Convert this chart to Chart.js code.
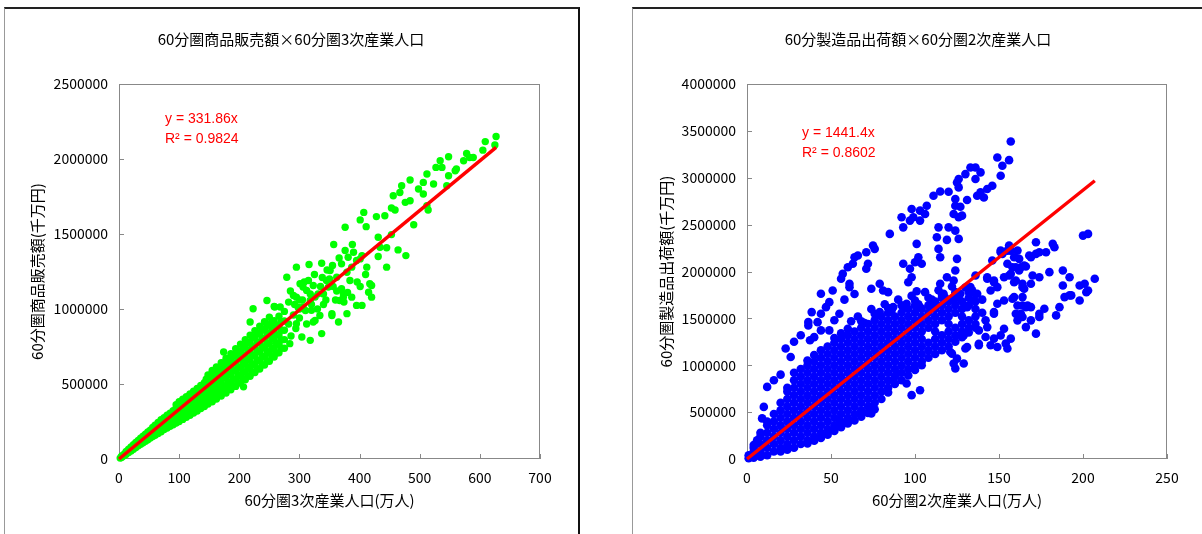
<!DOCTYPE html>
<html>
<head>
<meta charset="utf-8">
<script src="https://cdn.jsdelivr.net/npm/chart.js@4.4.1/dist/chart.umd.min.js"></script>
<style>
  body { margin: 0; background: #fff; width: 1202px; height: 534px; overflow: hidden; position: relative; }
  .box { position: absolute; top: 7px; height: 600px; border-top: 2px solid #222; border-left: 1px solid #999; }
  #box1 { left: 4px; width: 573px; border-right: 2px solid #111; }
  #box2 { left: 632px; width: 620px; }
  canvas { position: absolute; top: 0; }
</style>
</head>
<body>
<div class="box" id="box1"></div>
<div class="box" id="box2"></div>
<canvas id="c1" width="600" height="534" style="left:0"></canvas>
<canvas id="c2" width="600" height="534" style="left:602px"></canvas>
<script>
// 左: 60分圏3次産業人口(万人) x 商品販売額(千万円)
const greenPoints = [
  [2,6000],[4,10000],[4,17000],[6,16000],[6,24000],[9,24000],[9,33000],
  [12,32000],[12,42000],[12,50000],[16,44000],[16,56000],[16,66000],
  [20,54000],[20,67000],[20,80000],[24,65000],[24,80000],[24,95000],
  [28,76000],[28,93000],[28,110000],[32,88000],[32,106000],[32,124000],
  [36,98000],[36,118000],[36,138000],[40,108000],[40,132000],[40,152000],
  [44,118000],[44,145000],[44,166000],[48,128000],[48,155000],[48,180000],
  [52,140000],[52,165000],[52,192000],[56,150000],[56,174000],[56,196000],[56,210000],
  [60,158000],[60,184000],[60,206000],[60,225000],[65,170000],[65,196000],[65,222000],[65,244000],
  [70,182000],[70,210000],[70,236000],[70,262000],[75,196000],[75,224000],[75,250000],[75,276000],
  [80,206000],[80,236000],[80,264000],[80,292000],[85,218000],[85,250000],[85,280000],[85,306000],
  [90,228000],[90,260000],[90,294000],[90,322000],
  [95,240000],[95,272000],[95,306000],[95,338000],[95,362000],
  [100,250000],[100,284000],[100,318000],[100,350000],[100,382000],
  [103,268000],[103,306000],[103,340000],[103,370000],
  [106,264000],[106,300000],[106,334000],[106,368000],[106,398000],
  [109,286000],[109,318000],[109,358000],[109,392000],
  [112,278000],[112,314000],[112,352000],[112,386000],[112,416000],
  [115,296000],[115,336000],[115,370000],[115,410000],
  [118,292000],[118,330000],[118,366000],[118,404000],[118,434000],
  [121,314000],[121,348000],[121,390000],[121,426000],
  [124,306000],[124,344000],[124,384000],[124,420000],[124,452000],
  [127,328000],[127,364000],[127,408000],[127,446000],
  [130,320000],[130,358000],[130,398000],[130,438000],[130,470000],
  [133,340000],[133,384000],[133,422000],[133,466000],
  [136,336000],[136,374000],[136,416000],[136,456000],[136,490000],
  [139,358000],[139,396000],[139,442000],[139,480000],
  [142,350000],[142,390000],[142,432000],[142,474000],[142,508000],
  [145,370000],[145,416000],[145,454000],[145,500000],[145,532000],
  [148,366000],[148,404000],[148,448000],[148,490000],[148,528000],[148,560000],
  [151,388000],[151,426000],[151,476000],[151,514000],[151,558000],
  [155,382000],[155,422000],[155,468000],[155,512000],[155,554000],[155,590000],
  [158,404000],[158,446000],[158,498000],[158,538000],[158,584000],
  [162,400000],[162,442000],[162,490000],[162,536000],[162,578000],[162,614000],
  [166,424000],[166,466000],[166,520000],[166,564000],[166,610000],
  [170,420000],[170,464000],[170,514000],[170,560000],[170,606000],[170,642000],
  [174,444000],[174,488000],[174,544000],[174,590000],[174,640000],
  [178,440000],[178,486000],[178,538000],[178,586000],[178,632000],[178,672000],
  [182,464000],[182,514000],[182,564000],[182,620000],[182,664000],
  [186,462000],[186,510000],[186,562000],[186,612000],[186,660000],[186,702000],
  [190,486000],[190,534000],[190,592000],[190,642000],[190,696000],
  [194,484000],[194,532000],[194,586000],[194,640000],[194,690000],[194,736000],
  [198,508000],[198,562000],[198,612000],[198,672000],[198,720000],
  [202,506000],[202,556000],[202,612000],[202,666000],[202,718000],[202,766000],
  [206,532000],[206,582000],[206,642000],[206,694000],[206,752000],
  [210,528000],[210,580000],[210,636000],[210,692000],[210,746000],[210,796000],
  [214,554000],[214,610000],[214,664000],[214,726000],[214,778000],
  [218,552000],[218,604000],[218,662000],[218,720000],[218,776000],[218,826000],
  [222,578000],[222,632000],[222,694000],[222,750000],[222,812000],
  [226,576000],[226,630000],[226,690000],[226,748000],[226,806000],[226,856000],
  [230,602000],[230,658000],[230,722000],[230,778000],[230,842000],
  [234,600000],[234,656000],[234,716000],[234,776000],[234,834000],[234,886000],
  [238,628000],[238,684000],[238,748000],[238,806000],[238,868000],
  [242,626000],[242,682000],[242,742000],[242,802000],[242,862000],[242,916000],
  [246,654000],[246,714000],[246,772000],[246,838000],[246,894000],
  [250,652000],[250,708000],[250,770000],[250,832000],[250,892000],[250,946000],
  [254,682000],[254,738000],[254,804000],[254,862000],[254,918000],
  [258,680000],[258,736000],[258,798000],[258,860000],[258,922000],
  [262,706000],[262,770000],[262,828000],[262,894000],
  [266,708000],[266,764000],[266,826000],[266,888000],[266,952000],
  [270,738000],[270,794000],[270,858000],[270,916000],
  [275,738000],[275,796000],[275,858000],[275,920000],[275,984000],
  [282,900000],[286,820000],[290,960000],[294,870000],[298,1010000],[300,940000],
  [305,1060000],[310,990000],[312,900000],[318,1100000],[320,1030000],[326,1080000],
  [330,1000000],[335,1150000],[340,1100000],[344,1060000],[350,1200000],[356,1150000],[362,1120000],
  [285,1120000],[292,1030000],[300,1060000],[308,1180000],[315,1190000],[325,1230000],
  [338,1210000],[346,1260000],[355,1290000],[366,1340000],[376,1390000],[388,1430000],
  [300,1000000],[340,1030000],[360,1060000],[380,1110000],[396,1180000],[410,1230000],
  // 散らばった点
  [223,1002000],[246,1057000],[258,1017000],[304,813000],[318,791000],[337,836000],
  [323,913000],[334,957000],[354,957000],[365,913000],[373,1079000],[395,1024000],
  [295,902000],[284,769000],[207,481000],[174,713000],[218,913000],
  [627,2150000],[625,2094000],[609,2116000],[605,2059000],[578,2037000],[583,2010000],
  [573,1988000],[548,2015000],[534,1988000],[527,1944000],[537,1944000],[559,1922000],
  [548,1888000],[512,1900000],[523,1833000],[506,1844000],[484,1860000],[470,1822000],
  [467,1777000],[456,1755000],[498,1800000],[506,1767000],[484,1722000],[476,1711000],
  [514,1660000],[453,1673000],[459,1660000],[490,1562000],[442,1622000],[428,1616000],
  [407,1644000],[401,1594000],[411,1549000],[376,1545000],[431,1478000],[453,1496000],
  [445,1408000],[464,1394000],[477,1356000],[431,1350000],[445,1279000],[357,1430000],
  [390,1378000],[381,1345000],[370,1301000],[401,1334000],[412,1279000],[337,1305000],
  [316,1297000],[295,1279000],[279,1212000],[351,1257000],[362,1212000],[401,1150000],
  [420,1157000],[415,1112000],[420,1079000],[387,1079000],[373,1101000],[374,1046000],
  [404,1024000],[354,969000],[320,991000],[290,1090000],[306,1146000],[259,1013000],
  [301,1168000],[312,1124000],[323,1157000],[331,1101000],[345,1190000],[348,1146000],
  [379,1245000],[387,1279000],[395,1323000],[404,1356000],[370,1135000],[384,1190000],
  [268,1013000],[282,1046000],[295,1079000],[306,1013000],[318,1057000],[326,924000],
  [367,1057000],[379,969000],[417,1168000],[434,1412000],[512,1689000],[545,1822000],
  [561,1933000],[589,2010000]
];
const greenTrend = [[0,0],[627,2077000]];
const greenEquation = ['y = 331.86x', 'R² = 0.9824'];
const leftXTicks = [0, 700, 100];
const leftYTicks = [0, 2500000, 500000];

// 右: 60分圏2次産業人口(万人) x 製造品出荷額(千万円)
const bluePoints = [
  // 密集部
  [1,8000],[1,40000],[2,30000],[4,15000],[4,40000],[4,80000],[4,120000],[4,150000],[6,40000],[6,200000],
  [8,25000],[8,80000],[8,160000],[8,240000],[8,280000],
  [12,40000],[12,120000],[12,200000],[12,280000],[12,360000],[12,400000],
  [16,80000],[16,160000],[16,240000],[16,320000],[16,400000],[16,480000],
  [20,80000],[20,120000],[20,200000],[20,280000],[20,360000],[20,440000],[20,520000],[20,600000],
  [24,100000],[24,160000],[24,240000],[24,320000],[24,400000],[24,480000],[24,560000],[24,640000],[24,720000],[24,760000],
  [28,120000],[28,200000],[28,280000],[28,360000],[28,440000],[28,520000],[28,600000],[28,680000],[28,760000],[28,840000],[28,920000],
  [32,160000],[32,240000],[32,320000],[32,400000],[32,480000],[32,560000],[32,640000],[32,720000],[32,800000],[32,880000],[32,960000],
  [36,165000],[36,200000],[36,280000],[36,360000],[36,440000],[36,520000],[36,600000],[36,680000],[36,760000],[36,840000],[36,920000],[36,1000000],[36,1050000],
  [40,195000],[40,240000],[40,320000],[40,400000],[40,480000],[40,560000],[40,640000],[40,720000],[40,800000],[40,880000],[40,960000],[40,1040000],[40,1110000],
  [44,225000],[44,280000],[44,360000],[44,440000],[44,520000],[44,600000],[44,680000],[44,760000],[44,840000],[44,920000],[44,1000000],[44,1080000],[44,1160000],
  [48,260000],[48,320000],[48,400000],[48,480000],[48,560000],[48,640000],[48,720000],[48,800000],[48,880000],[48,960000],[48,1040000],[48,1120000],[48,1200000],
  [52,300000],[52,360000],[52,440000],[52,520000],[52,600000],[52,680000],[52,760000],[52,840000],[52,920000],[52,1000000],[52,1080000],[52,1160000],[52,1240000],[52,1290000],
  [56,340000],[56,400000],[56,480000],[56,560000],[56,640000],[56,720000],[56,800000],[56,880000],[56,960000],[56,1040000],[56,1120000],[56,1200000],[56,1280000],[56,1340000],
  [60,380000],[60,440000],[60,520000],[60,600000],[60,680000],[60,760000],[60,840000],[60,920000],[60,1000000],[60,1080000],[60,1160000],[60,1240000],[60,1320000],[60,1390000],
  [64,410000],[64,480000],[64,560000],[64,640000],[64,720000],[64,800000],[64,880000],[64,960000],[64,1040000],[64,1120000],[64,1200000],[64,1280000],[64,1360000],
  [68,450000],[68,520000],[68,600000],[68,680000],[68,760000],[68,840000],[68,920000],[68,1000000],[68,1080000],[68,1160000],[68,1240000],[68,1320000],[68,1400000],[68,1470000],
  [72,490000],[72,560000],[72,640000],[72,720000],[72,800000],[72,880000],[72,960000],[72,1040000],[72,1120000],[72,1200000],[72,1280000],[72,1360000],[72,1440000],
  [76,530000],[76,600000],[76,680000],[76,760000],[76,840000],[76,920000],[76,1000000],[76,1080000],[76,1160000],[76,1240000],[76,1320000],[76,1400000],[76,1480000],[76,1550000],
  [80,640000],[80,720000],[80,800000],[80,880000],[80,960000],[80,1040000],[80,1120000],[80,1200000],[80,1280000],[80,1360000],[80,1440000],[80,1520000],
  [84,710000],[84,760000],[84,840000],[84,920000],[84,1000000],[84,1080000],[84,1160000],[84,1240000],[84,1320000],[84,1400000],[84,1480000],[84,1560000],[84,1610000],
  [88,800000],[88,880000],[88,960000],[88,1040000],[88,1120000],[88,1200000],[88,1280000],[88,1360000],[88,1440000],[88,1520000],
  [92,840000],[92,920000],[92,1000000],[92,1080000],[92,1160000],[92,1240000],[92,1320000],[92,1400000],[92,1480000],[92,1560000],[92,1640000],
  [96,890000],[96,960000],[96,1040000],[96,1120000],[96,1200000],[96,1280000],[96,1360000],[96,1440000],[96,1520000],[96,1600000],
  [100,950000],[100,1000000],[100,1080000],[100,1160000],[100,1240000],[100,1320000],[100,1400000],[100,1480000],[100,1560000],[100,1640000],[100,1690000],
  [104,1000000],[104,1040000],[104,1120000],[104,1200000],[104,1280000],[104,1360000],[104,1440000],[104,1520000],[104,1600000],
  [108,1080000],[108,1160000],[108,1240000],[108,1400000],[108,1480000],[108,1560000],[108,1640000],[108,1720000],
  [112,1120000],[112,1200000],[112,1280000],[112,1360000],[112,1440000],[112,1520000],[112,1600000],[112,1680000],
  [116,1160000],[116,1240000],[116,1320000],[116,1480000],[116,1560000],[116,1640000],[116,1720000],[116,1760000],
  [120,1200000],[120,1280000],[120,1360000],[120,1440000],[120,1520000],[120,1600000],[120,1680000],
  [124,1250000],[124,1320000],[124,1400000],[124,1560000],[124,1640000],[124,1720000],[124,1780000],
  [128,1300000],[128,1360000],[128,1440000],[128,1520000],[128,1600000],[128,1680000],
  [132,1350000],[132,1400000],[132,1480000],[132,1640000],[132,1720000],[132,1780000],
  [136,1400000],[136,1440000],[136,1520000],[136,1600000],[136,1680000],[136,1760000],
  // 密集部の上端のばらつき
  [62,1470000],[66,1520000],[70,1450000],[74,1600000],[78,1540000],[82,1650000],[86,1580000],
  [90,1700000],[94,1620000],[98,1740000],[102,1650000],[106,1780000],[110,1700000],[114,1800000],
  [118,1720000],[122,1840000],[126,1720000],[130,1830000],[134,1800000],[140,1700000],[140,1560000],[142,1480000],
  // 上側の枝
  [157,3386000],[149,3216000],[156,3188000],[152,3128000],[151,3021000],[136,3110000],[139,3057000],
  [133,3110000],[130,3039000],[126,2986000],[125,2950000],[136,2986000],[146,2915000],[143,2880000],
  [139,2844000],[141,2790000],[137,2808000],[131,2762000],[126,2897000],[120,2851000],[115,2854000],
  [111,2808000],[124,2773000],[124,2702000],[127,2691000],[123,2614000],[126,2578000],[128,2596000],
  [120,2471000],[124,2436000],[126,2348000],[114,2471000],[113,2365000],[119,2337000],[114,2241000],
  [115,2152000],[125,2135000],[124,2011000],[101,2295000],[102,2152000],[100,2099000],[104,2082000],
  [97,2029000],[93,2082000],[98,1939000],[96,1886000],[107,2702000],[106,2614000],[103,2649000],
  [98,2667000],[99,2578000],[103,2543000],[92,2578000],[93,2471000],[97,2543000],[85,2401000],
  [75,2277000],[76,2241000],[71,2205000],[66,2170000],[64,2152000],[72,2082000],[71,2029000],
  [63,2082000],[60,2046000],[57,1975000],[61,1869000],[56,1922000],[79,1869000],[81,1798000],
  [84,1780000],[74,1816000],[101,1790000],
  // 右側のかたまり
  [115,1869000],[119,1939000],[123,1904000],[127,1763000],[133,1833000],[137,1763000],[135,1691000],
  [131,1620000],[123,1691000],[117,1763000],[109,1620000],[103,1620000],[95,1656000],[87,1620000],
  [79,1567000],[143,1939000],[147,1904000],[145,1798000],[149,1833000],[153,1939000],[155,2082000],
  [159,2152000],[158,2046000],[152,2188000],[151,2223000],[155,2223000],[161,2223000],[163,2046000],
  [165,2064000],[157,1975000],[160,1904000],[164,1833000],[164,1727000],[159,1727000],[153,1691000],
  [149,1656000],[164,1638000],[166,1620000],[169,1620000],[172,2312000],[174,2205000],[178,2205000],
  [182,2295000],[183,2259000],[169,2152000],[166,2053000],[170,1957000],[174,1939000],[169,1869000],
  [180,1993000],[188,1851000],[192,1939000],[198,1851000],[201,1869000],[203,1798000],[207,1922000],
  [200,2383000],[203,2401000],[192,1745000],[189,1727000],[198,1691000],[186,1620000],[184,1532000],
  [174,1550000],[163,1550000],[147,1550000],[188,2011000],[202,1780000],[193,1745000],[177,1603000],
  [174,1514000],[169,1479000],[172,1337000],[166,1407000],[164,1514000],[161,1479000],[167,1638000],
  [161,1638000],[160,1550000],[153,1390000],[157,1284000],[154,1231000],[151,1319000],[147,1284000],
  [145,1213000],[149,1195000],[155,1178000],[142,1301000],[143,1407000],[138,1372000],[138,1213000],
  [147,1567000],[130,1178000],[129,1018000],[124,965000],[122,1124000],[129,1319000],[158,1709000],
  [164,1869000],[165,1816000],[159,1886000],[156,1957000],[172,2188000],[168,2170000],[162,2011000],
  [160,2046000],[162,2135000],[157,2223000],[156,2277000],[151,2205000],[146,2117000],[136,1957000],
  [143,1922000],[147,1886000],
  // 下側・左上の点
  [103,734000],[98,681000],[89,912000],[95,805000],[87,840000],[73,556000],[74,486000],[68,503000],
  [55,415000],[131,1195000],[138,1230000],[125,1071000],[121,1141000],[123,1018000],
  [23,1178000],[26,1088000],[10,556000],[9,433000],[16,840000],[12,769000],[36.5,1461000],
  [36.5,1425000],[37.5,1266000],[44,1372000],[49,1372000],[38.5,1567000],[44,1550000],
  [47,1620000],[44,1763000],[49,1673000],[51,1798000],[55,1550000],[61,1833000],
  [20,900000],[28,1250000],[32,1320000],[40,1300000],[42,1460000],[52,1480000],[58,1700000],[64,1760000]
];
const blueTrend = [[0,0],[207,2968000]];
const blueEquation = ['y = 1441.4x', 'R² = 0.8602'];
const rightXTicks = [0, 250, 50];
const rightYTicks = [0, 4000000, 500000];

Chart.defaults.font.family = '"Noto Sans CJK JP", "Noto Sans", sans-serif';
Chart.defaults.color = '#000';

// プロットエリアの枠と内向きの目盛り
const plotFrame = {
  id: 'plotFrame',
  beforeDatasetsDraw(chart) {
    const {ctx, chartArea: a, scales} = chart;
    ctx.save();
    ctx.strokeStyle = '#888';
    ctx.lineWidth = 1;
    ctx.strokeRect(a.left + 0.5, a.top + 0.5, a.right - a.left - 1, a.bottom - a.top - 1);
    ctx.beginPath();
    scales.x.ticks.forEach((t, i) => {
      const px = Math.round(scales.x.getPixelForTick(i)) + 0.5;
      ctx.moveTo(px, a.bottom);
      ctx.lineTo(px, a.bottom - 5);
    });
    scales.y.ticks.forEach((t, i) => {
      const py = Math.round(scales.y.getPixelForTick(i)) + 0.5;
      ctx.moveTo(a.left, py);
      ctx.lineTo(a.left + 5, py);
    });
    ctx.stroke();
    ctx.restore();
  }
};

// 近似式のラベル
const fitLabel = {
  id: 'fitLabel',
  afterDatasetsDraw(chart, args, opts) {
    const {ctx, chartArea: a} = chart;
    ctx.save();
    ctx.fillStyle = '#ff0000';
    ctx.font = '14px "Liberation Sans", "Noto Sans", sans-serif';
    ctx.textBaseline = 'middle';
    opts.lines.forEach((s, i) => ctx.fillText(s, a.left + opts.dx, a.top + opts.dy + i * 20));
    ctx.restore();
  }
};

function makeChart(id, c) {
  const tickFont = { size: 14 };
  return new Chart(document.getElementById(id), {
    type: 'scatter',
    data: {
      datasets: [
        {
          data: c.trend.map(p => ({ x: p[0], y: p[1] })),
          showLine: true,
          borderColor: '#ff0000',
          borderWidth: 3.5,
          pointRadius: 0,
          order: 0,
          clip: false
        },
        {
          data: c.points.map(p => ({ x: p[0], y: p[1] })),
          backgroundColor: c.color,
          borderWidth: 0,
          pointRadius: c.radius,
          order: 1,
          clip: false
        }
      ]
    },
    options: {
      responsive: false,
      animation: false,
      layout: { padding: { left: c.padLeft, right: c.padRight, top: 0, bottom: 0 } },
      plugins: {
        legend: { display: false },
        tooltip: { enabled: false },
        title: {
          display: true,
          text: c.title,
          color: '#000',
          font: { size: 15, weight: 'normal' },
          padding: { top: 30, bottom: 36 }
        },
        fitLabel: { lines: c.equation, dx: c.eqX, dy: c.eqY }
      },
      scales: {
        x: {
          type: 'linear',
          min: c.xTicks[0], max: c.xTicks[1],
          ticks: { stepSize: c.xTicks[2], font: tickFont, padding: 10, maxRotation: 0, callback: v => String(v) },
          grid: { display: false, drawTicks: false },
          border: { display: false },
          title: { display: true, text: c.xTitle, font: { size: 15 }, padding: { top: 0, bottom: 25 } },
          afterFit: s => { s.height = 75; }
        },
        y: {
          type: 'linear',
          min: c.yTicks[0], max: c.yTicks[1],
          ticks: { stepSize: c.yTicks[2], font: tickFont, padding: 11, callback: v => String(v) },
          grid: { display: false, drawTicks: false },
          border: { display: false },
          title: { display: true, text: c.yTitle, font: { size: 15 }, padding: { top: c.yTitlePad, bottom: 0 } },
          afterFit: s => { s.width = c.yWidth; }
        }
      }
    },
    plugins: [plotFrame, fitLabel]
  });
}

makeChart('c1', {
  title: '60分圏商品販売額×60分圏3次産業人口',
  xTitle: '60分圏3次産業人口(万人)',
  yTitle: '60分圏商品販売額(千万円)',
  points: greenPoints, trend: greenTrend, equation: greenEquation,
  color: '#00ff00', radius: 3.7,
  xTicks: leftXTicks, yTicks: leftYTicks,
  padLeft: 42, padRight: 60, yWidth: 77, yTitlePad: -14,
  eqX: 46, eqY: 35
});

makeChart('c2', {
  title: '60分製造品出荷額×60分圏2次産業人口',
  xTitle: '60分圏2次産業人口(万人)',
  yTitle: '60分圏製造品出荷額(千万円)',
  points: bluePoints, trend: blueTrend, equation: blueEquation,
  color: '#0000ff', radius: 4.3,
  xTicks: rightXTicks, yTicks: rightYTicks,
  padLeft: 67, padRight: 35, yWidth: 78, yTitlePad: -12,
  eqX: 55, eqY: 49
});
</script>
</body>
</html>
